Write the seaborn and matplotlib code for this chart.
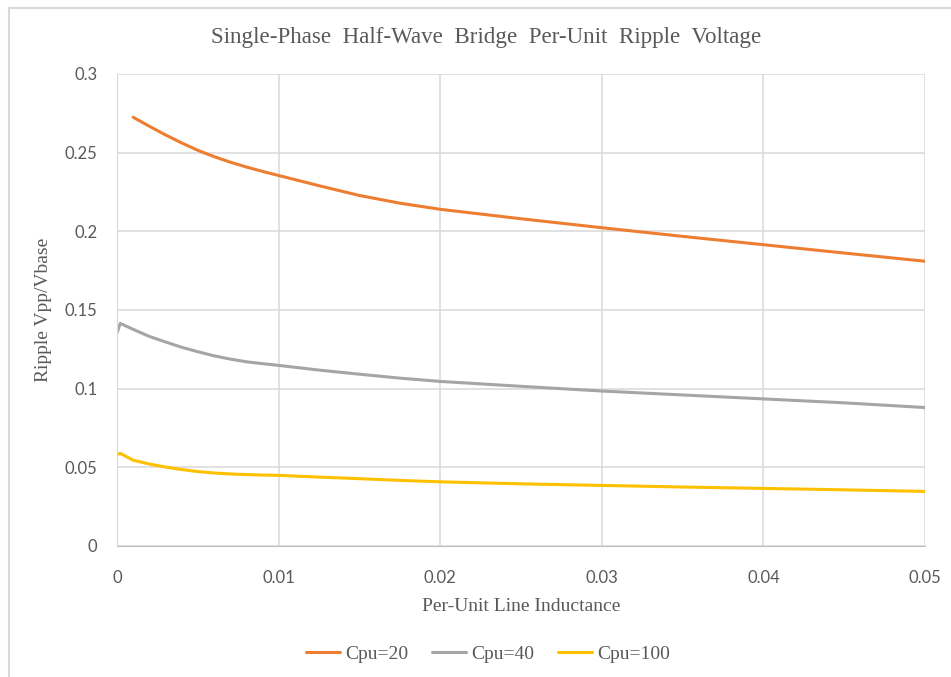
import numpy as np
import pandas as pd
import seaborn as sns
import matplotlib.pyplot as plt
from matplotlib.lines import Line2D

sns.set_style('white')

# per-unit line inductance
l_pu = [0, 0.0002, 0.001, 0.002, 0.003, 0.004, 0.005, 0.006, 0.007, 0.008, 0.009, 0.01,
        0.0125, 0.015, 0.0175, 0.02, 0.025, 0.03, 0.035, 0.04, 0.045, 0.05]

ripple_c20 = [np.nan, np.nan, 0.2725, 0.2668, 0.2613, 0.2562, 0.2515, 0.2475, 0.2440, 0.2409, 0.2381, 0.2355,
              0.2290, 0.2228, 0.2179, 0.2140, 0.2080, 0.2023, 0.1968, 0.1915, 0.1862, 0.1810]
ripple_c40 = [0.1354, 0.1415, 0.1377, 0.1332, 0.1297, 0.1263, 0.1235, 0.1209, 0.1188, 0.1171, 0.1159, 0.1148,
              0.1118, 0.1092, 0.1067, 0.1046, 0.1015, 0.0985, 0.0960, 0.0935, 0.0910, 0.0880]
ripple_c100 = [0.0580, 0.0589, 0.0545, 0.0521, 0.0502, 0.0486, 0.0473, 0.0464, 0.0458, 0.0454, 0.0451, 0.0449,
               0.0438, 0.0428, 0.0417, 0.0408, 0.0395, 0.0385, 0.0375, 0.0366, 0.0357, 0.0347]

series_names = ['Cpu=20', 'Cpu=40', 'Cpu=100']
series_colors = ['#ED7D31', '#A5A5A5', '#FFC000']

x_ticks = [0, 0.01, 0.02, 0.03, 0.04, 0.05]
x_tick_labels = ['0', '0.01', '0.02', '0.03', '0.04', '0.05']
y_ticks = [0, 0.05, 0.1, 0.15, 0.2, 0.25, 0.3]
y_tick_labels = ['0', '0.05', '0.1', '0.15', '0.2', '0.25', '0.3']

df = pd.DataFrame({'L': l_pu, 'Cpu=20': ripple_c20, 'Cpu=40': ripple_c40, 'Cpu=100': ripple_c100})
df_long = df.melt(id_vars='L', var_name='series', value_name='ripple').dropna()

txt = '#595959'
serif = 'Liberation Serif'
sans = 'Lato'

fig = plt.figure(figsize=(9.51, 6.77), dpi=100)
ax = fig.add_axes([117/951, 1 - 546/677, (925-117)/951, (546-74)/677])

sns.lineplot(data=df_long, x='L', y='ripple', hue='series', hue_order=series_names,
             palette=series_colors, estimator=None, sort=False, linewidth=2.2, ax=ax, legend=False)

ax.set_xlim(0, 0.05)
ax.set_ylim(0, 0.3)
ax.set_xticks(x_ticks, x_tick_labels)
ax.set_yticks(y_ticks, y_tick_labels)
ax.grid(True, color='#D9D9D9', linewidth=1.1)
ax.set_axisbelow(True)
for s in ['top', 'right']:
    ax.spines[s].set_visible(False)
ax.spines['left'].set_color('#D9D9D9')
ax.spines['bottom'].set_color('#BFBFBF')
ax.tick_params(length=0, labelsize=12, labelcolor=txt)
ax.tick_params(axis='y', pad=14)
ax.tick_params(axis='x', pad=17)
for lab in ax.get_xticklabels() + ax.get_yticklabels():
    lab.set_fontfamily(sans)

ax.set_xlabel('Per-Unit Line Inductance', fontfamily=serif, fontsize=14, color=txt, labelpad=9)
ax.set_ylabel('Ripple Vpp/Vbase', fontfamily=serif, fontsize=14, color=txt, labelpad=9)
fig.text(486/951, 1 - 37/677, 'Single-Phase  Half-Wave  Bridge  Per-Unit  Ripple  Voltage',
         ha='center', va='center', fontfamily=serif, fontsize=16.6, color=txt)

handles = [Line2D([], [], color=c, linewidth=2.2) for c in series_colors]
leg = fig.legend(handles, series_names, loc='center', bbox_to_anchor=(488/951, 1 - 654/677),
                 ncol=3, frameon=False, handlelength=1.75, handletextpad=0.25, columnspacing=1.25,
                 prop={'family': serif, 'size': 14})
for t in leg.get_texts():
    t.set_color(txt)

# chart frame edges (left and top visible)
fig.add_artist(Line2D([8.5/951, 8.5/951], [0, 1 - 8/677], transform=fig.transFigure, color='#D9D9D9', linewidth=1.5))
fig.add_artist(Line2D([8.5/951, 1], [1 - 8/677, 1 - 8/677], transform=fig.transFigure, color='#D9D9D9', linewidth=1.5))

plt.savefig('out.png', dpi=100)
